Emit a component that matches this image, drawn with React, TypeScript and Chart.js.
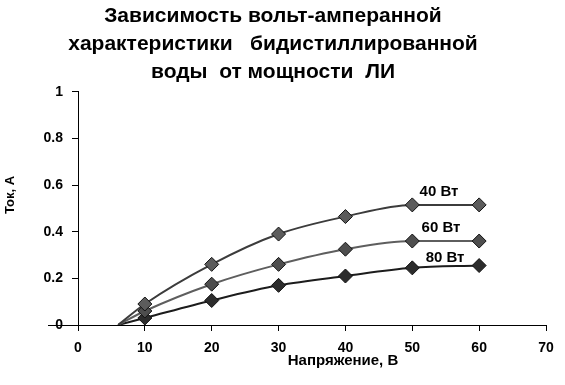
import React, { useEffect, useRef } from "react";
import { Chart, registerables } from "chart.js";

Chart.register(...registerables);

const voltages = [6, 10, 20, 30, 40, 50, 60];
const current40W = [0, 0.09, 0.26, 0.39, 0.465, 0.515, 0.515];
const current60W = [0, 0.06, 0.175, 0.26, 0.325, 0.36, 0.36];
const current80W = [0, 0.03, 0.105, 0.17, 0.21, 0.245, 0.255];
const seriesNames = ["40 Вт", "60 Вт", "80 Вт"];
const seriesLabelX = [54.0, 54.3, 54.9];
const seriesLabelY = [0.571, 0.416, 0.288];
const titleLines = [
  "Зависимость вольт-амперанной",
  "характеристики   бидистиллированной",
  "воды  от мощности  ЛИ",
];
const xTitle = "Напряжение, В";
const yTitle = "Ток, A";

const FONT = "'Liberation Sans', Arial, sans-serif";

const toPoints = (ys: number[]) => voltages.map((x, i) => ({ x, y: ys[i] }));

const labelsPlugin = {
  id: "seriesLabels",
  afterDatasetsDraw(chart: any) {
    const { ctx, scales } = chart;
    const xs = scales.x;
    const ys = scales.y;
    ctx.save();
    // extension of x-axis line to the left of the y-axis
    ctx.strokeStyle = "#000";
    ctx.lineWidth = 1;
    ctx.beginPath();
    const y0 = Math.round(ys.getPixelForValue(0)) + 0.5;
    ctx.moveTo(48, y0);
    ctx.lineTo(xs.left, y0);
    ctx.stroke();
    ctx.fillStyle = "#000";
    ctx.font = `bold 15px ${FONT}`;
    ctx.textAlign = "center";
    ctx.textBaseline = "middle";
    seriesNames.forEach((name, i) => {
      ctx.fillText(
        name,
        xs.getPixelForValue(seriesLabelX[i]),
        ys.getPixelForValue(seriesLabelY[i])
      );
    });
    // axis titles
    ctx.font = `bold 15px ${FONT}`;
    ctx.fillText(xTitle, 343, 361);
    ctx.translate(10, 195);
    ctx.rotate(-Math.PI / 2);
    ctx.font = `bold 13px ${FONT}`;
    ctx.fillText(yTitle, 0, 0);
    ctx.restore();
  },
};

export default function App() {
  const ref = useRef<HTMLCanvasElement>(null);
  useEffect(() => {
    if (!ref.current) return;
    const mk = (label: string, ys: number[], line: string, fill: string) => ({
      label,
      data: toPoints(ys),
      borderColor: line,
      backgroundColor: fill,
      borderWidth: 2,
      pointStyle: "rectRot",
      pointRadius: voltages.map((_, i) => (i === 0 ? 0 : 7)),
      pointBorderColor: "#111",
      pointBorderWidth: 1,
      pointBackgroundColor: fill,
      cubicInterpolationMode: "monotone",
    });
    const chart = new Chart(ref.current, {
      type: "line",
      data: {
        datasets: [
          mk(seriesNames[0], current40W, "#3c3c3c", "#5c5c5c"),
          mk(seriesNames[1], current60W, "#5e5e5e", "#4e4e4e"),
          mk(seriesNames[2], current80W, "#1c1c1c", "#2c2c2c"),
        ] as any,
      },
      options: {
        animation: false,
        responsive: false,
        maintainAspectRatio: false,
        layout: { padding: { left: 0, right: 19, top: 0, bottom: 0 } },
        plugins: {
          legend: { display: false },
          tooltip: { enabled: false },
          title: {
            display: true,
            text: titleLines,
            color: "#000",
            font: { family: FONT, size: 21, weight: "bold", lineHeight: 1.33 },
            padding: { top: 2, bottom: 6 },
          },
        },
        scales: {
          x: {
            type: "linear",
            min: 0,
            max: 70,
            ticks: {
              stepSize: 10,
              color: "#000",
              font: { family: FONT, size: 14, weight: "bold" },
              padding: 9,
              maxRotation: 0,
            },
            grid: {
              drawOnChartArea: false,
              drawTicks: true,
              tickLength: 6,
              tickColor: "#000",
            },
            border: { display: true, color: "#000", width: 1 },
            afterFit: (s: any) => {
              s.height = 60;
            },
          },
          y: {
            type: "linear",
            min: 0,
            max: 1,
            ticks: {
              stepSize: 0.2,
              color: "#000",
              font: { family: FONT, size: 14, weight: "bold" },
              padding: 9,
              callback: (v: any) => String(Math.round(Number(v) * 10) / 10),
            },
            grid: {
              drawOnChartArea: false,
              drawTicks: true,
              tickLength: 6,
              tickColor: "#000",
            },
            border: { display: true, color: "#000", width: 1 },
            afterFit: (s: any) => {
              s.width = 78;
            },
          },
        },
      } as any,
      plugins: [labelsPlugin],
    });
    return () => chart.destroy();
  }, []);
  return (
    <div style={{ position: "fixed", left: 0, top: 0, width: 565, height: 385, background: "#fff" }}>
      <canvas ref={ref} width={565} height={385} style={{ width: 565, height: 385 }} />
    </div>
  );
}
